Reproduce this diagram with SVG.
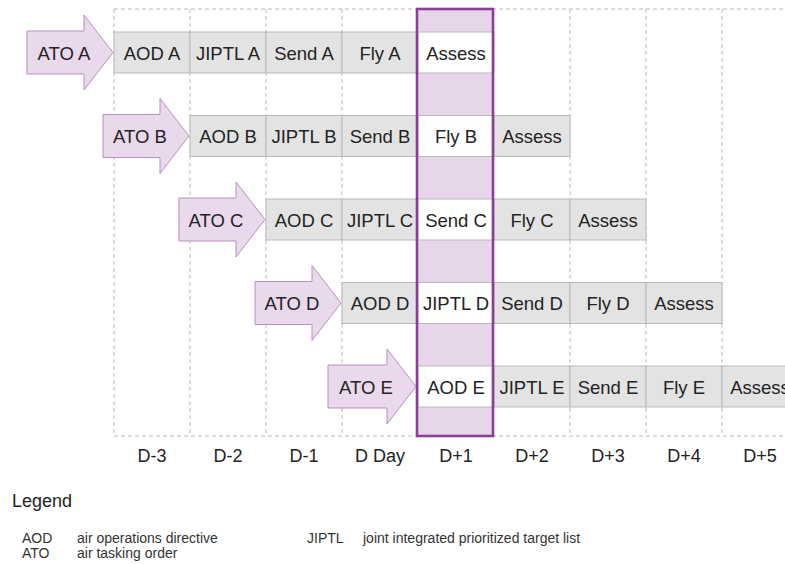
<svg xmlns="http://www.w3.org/2000/svg" width="785" height="564" viewBox="0 0 785 564">
  <style>
    text { font-family: "Liberation Sans", Arial, Helvetica, sans-serif; fill: #232323; }
    .cell { fill: #e3e3e3; stroke: #b9b9b9; stroke-width: 1; }
    .cell.now { fill: #ffffff; }
    .lbl { font-size: 18.5px; text-anchor: middle; }
    .ato { fill: #ead8ed; stroke: #b98fc0; stroke-width: 1; }
    .vgrid { stroke: #bdbdbd; stroke-width: 1; stroke-dasharray: 4 3; fill: none; }
    .hgrid { stroke: #c7b3c8; stroke-width: 1.2; stroke-dasharray: 4 3; fill: none; }
    .day { font-size: 18px; text-anchor: middle; }
    .leg { font-size: 14px; fill: #333; }
  </style>

  <rect width="785" height="564" fill="#ffffff"/>

  <!-- current-day column background -->
  <rect x="417" y="9" width="76" height="427" fill="#e7d6ea"/>

  <!-- day grid -->
  <g id="grid">
    <path class="hgrid" d="M114 9H785M114 436H785"/>
    <path class="vgrid" d="M114 9V436M190 9V436M266 9V436M342 9V436M570 9V436M646 9V436M722 9V436"/>
  </g>

  <!-- row A -->
  <g id="row-a">
    <polygon class="ato" points="27,31 84,31 84,15 113,52.5 84,90 84,74 27,74"/>
    <text class="lbl" x="64" y="59.5">ATO A</text>
    <rect class="cell" x="114" y="32" width="76" height="41"/>
    <rect class="cell" x="190" y="32" width="76" height="41"/>
    <rect class="cell" x="266" y="32" width="76" height="41"/>
    <rect class="cell" x="342" y="32" width="76" height="41"/>
    <rect class="cell now" x="418" y="32" width="76" height="41"/>
    <text class="lbl" x="152" y="59.5">AOD A</text>
    <text class="lbl" x="228" y="59.5">JIPTL A</text>
    <text class="lbl" x="304" y="59.5">Send A</text>
    <text class="lbl" x="380" y="59.5">Fly A</text>
    <text class="lbl" x="456" y="59.5">Assess</text>
  </g>

  <!-- row B -->
  <g id="row-b">
    <polygon class="ato" points="103,114.5 160,114.5 160,98.5 189,136 160,173.5 160,157.5 103,157.5"/>
    <text class="lbl" x="140" y="143">ATO B</text>
    <rect class="cell" x="190" y="115.5" width="76" height="41"/>
    <rect class="cell" x="266" y="115.5" width="76" height="41"/>
    <rect class="cell" x="342" y="115.5" width="76" height="41"/>
    <rect class="cell now" x="418" y="115.5" width="76" height="41"/>
    <rect class="cell" x="494" y="115.5" width="76" height="41"/>
    <text class="lbl" x="228" y="143">AOD B</text>
    <text class="lbl" x="304" y="143">JIPTL B</text>
    <text class="lbl" x="380" y="143">Send B</text>
    <text class="lbl" x="456" y="143">Fly B</text>
    <text class="lbl" x="532" y="143">Assess</text>
  </g>

  <!-- row C -->
  <g id="row-c">
    <polygon class="ato" points="179,198 236,198 236,182 265,219.5 236,257 236,241 179,241"/>
    <text class="lbl" x="216" y="226.5">ATO C</text>
    <rect class="cell" x="266" y="199" width="76" height="41"/>
    <rect class="cell" x="342" y="199" width="76" height="41"/>
    <rect class="cell now" x="418" y="199" width="76" height="41"/>
    <rect class="cell" x="494" y="199" width="76" height="41"/>
    <rect class="cell" x="570" y="199" width="76" height="41"/>
    <text class="lbl" x="304" y="226.5">AOD C</text>
    <text class="lbl" x="380" y="226.5">JIPTL C</text>
    <text class="lbl" x="456" y="226.5">Send C</text>
    <text class="lbl" x="532" y="226.5">Fly C</text>
    <text class="lbl" x="608" y="226.5">Assess</text>
  </g>

  <!-- row D -->
  <g id="row-d">
    <polygon class="ato" points="255,281.5 312,281.5 312,265.5 341,303 312,340.5 312,324.5 255,324.5"/>
    <text class="lbl" x="292" y="310">ATO D</text>
    <rect class="cell" x="342" y="282.5" width="76" height="41"/>
    <rect class="cell now" x="418" y="282.5" width="76" height="41"/>
    <rect class="cell" x="494" y="282.5" width="76" height="41"/>
    <rect class="cell" x="570" y="282.5" width="76" height="41"/>
    <rect class="cell" x="646" y="282.5" width="76" height="41"/>
    <text class="lbl" x="380" y="310">AOD D</text>
    <text class="lbl" x="456" y="310">JIPTL D</text>
    <text class="lbl" x="532" y="310">Send D</text>
    <text class="lbl" x="608" y="310">Fly D</text>
    <text class="lbl" x="684" y="310">Assess</text>
  </g>

  <!-- row E -->
  <g id="row-e">
    <polygon class="ato" points="328,365 387,365 387,349 416,386.5 387,424 387,408 328,408"/>
    <text class="lbl" x="366" y="393.5">ATO E</text>
    <rect class="cell now" x="418" y="366" width="76" height="41"/>
    <rect class="cell" x="494" y="366" width="76" height="41"/>
    <rect class="cell" x="570" y="366" width="76" height="41"/>
    <rect class="cell" x="646" y="366" width="76" height="41"/>
    <rect class="cell" x="722" y="366" width="76" height="41"/>
    <text class="lbl" x="456" y="393.5">AOD E</text>
    <text class="lbl" x="532" y="393.5">JIPTL E</text>
    <text class="lbl" x="608" y="393.5">Send E</text>
    <text class="lbl" x="684" y="393.5">Fly E</text>
    <text class="lbl" x="760" y="393.5">Assess</text>
  </g>

  <!-- current-day column outline -->
  <rect id="today" x="417" y="9" width="76" height="427" fill="none" stroke="#8e3c99" stroke-width="2.6"/>

  <!-- day labels -->
  <g id="days">
    <text class="day" x="152" y="462">D-3</text>
    <text class="day" x="228" y="462">D-2</text>
    <text class="day" x="304" y="462">D-1</text>
    <text class="day" x="380" y="462">D Day</text>
    <text class="day" x="456" y="462">D+1</text>
    <text class="day" x="532" y="462">D+2</text>
    <text class="day" x="608" y="462">D+3</text>
    <text class="day" x="684" y="462">D+4</text>
    <text class="day" x="760" y="462">D+5</text>
  </g>

  <!-- legend -->
  <g id="legend">
    <text x="12" y="507" font-size="18">Legend</text>
    <text class="leg" x="22" y="543">AOD</text>
    <text class="leg" x="77" y="543">air operations directive</text>
    <text class="leg" x="22" y="558">ATO</text>
    <text class="leg" x="77" y="558">air tasking order</text>
    <text class="leg" x="307" y="543">JIPTL</text>
    <text class="leg" x="363" y="543">joint integrated prioritized target list</text>
  </g>
</svg>
